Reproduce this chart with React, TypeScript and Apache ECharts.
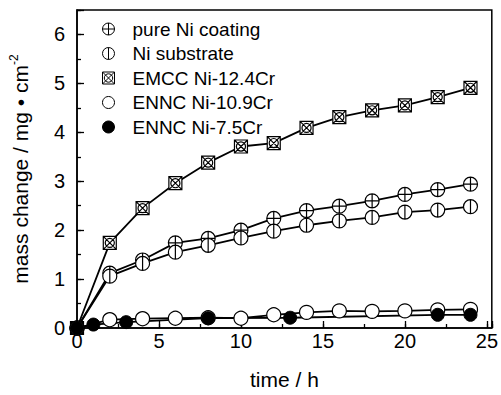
import React, { useEffect, useRef } from "react";
import * as echarts from "echarts";

const timeMain = [0, 2, 4, 6, 8, 10, 12, 14, 16, 18, 20, 22, 24];
const emccNi124Cr = [0, 1.74, 2.45, 2.96, 3.38, 3.71, 3.78, 4.09, 4.31, 4.45, 4.55, 4.72, 4.91];
const pureNiCoating = [0, 1.12, 1.39, 1.74, 1.83, 2.0, 2.24, 2.4, 2.49, 2.6, 2.73, 2.83, 2.94];
const niSubstrate = [0, 1.06, 1.32, 1.55, 1.69, 1.84, 1.98, 2.1, 2.19, 2.26, 2.37, 2.41, 2.48];
const enncNi109Cr = [0, 0.17, 0.19, 0.2, 0.21, 0.2, 0.27, 0.32, 0.35, 0.34, 0.35, 0.37, 0.38];
const time75 = [0, 1, 3, 8, 13, 22, 24];
const enncNi75Cr = [0, 0.07, 0.12, 0.2, 0.21, 0.27, 0.27];

const xTicks = [0, 5, 10, 15, 20, 25];
const yTicks = [0, 1, 2, 3, 4, 5, 6];

const names = [
  "pure Ni coating",
  "Ni substrate",
  "EMCC Ni-12.4Cr",
  "ENNC Ni-10.9Cr",
  "ENNC Ni-7.5Cr",
];

const CIRCLE = "M0 10A10 10 0 1 1 20 10A10 10 0 1 1 0 10Z";
const SYM_PLUS = "path://" + CIRCLE + "M0 10L20 10M10 0L10 20";
const SYM_BAR = "path://" + CIRCLE + "M10 0L10 20";
const SYM_BOX =
  "path://M0 0L20 0L20 20L0 20Z M3 10A7 7 0 1 1 17 10A7 7 0 1 1 3 10Z M0 0L20 20M20 0L0 20";

const FONT = "'Liberation Sans', Arial, sans-serif";

const zip = (xs: number[], ys: number[]) => xs.map((x, i) => [x, ys[i]]);

export default function App() {
  const ref = useRef<HTMLDivElement>(null);
  useEffect(() => {
    if (!ref.current) return;
    const chart = echarts.init(ref.current, undefined, { renderer: "svg" });
    const openStyle = { color: "#fff", borderColor: "#000", borderWidth: 1.2 };
    const lineStyle = { color: "#000", width: 1.8 };
    const mk = (name: string, data: number[][], symbol: string, size: number, item: any) => ({
      name,
      type: "line",
      data,
      symbol,
      symbolSize: size,
      showAllSymbol: true,
      lineStyle,
      itemStyle: item,
      emphasis: { disabled: true },
    });
    chart.setOption({
      animation: false,
      textStyle: { fontFamily: FONT },
      grid: {
        left: 76,
        right: 7,
        top: 10,
        bottom: 64,
        show: true,
        borderColor: "#000",
        borderWidth: 1.5,
        backgroundColor: "transparent",
      },
      legend: {
        orient: "vertical",
        left: 97,
        top: 14,
        itemWidth: 38,
        itemHeight: 12,
        itemGap: 4.5,
        selectedMode: false,
        textStyle: { fontSize: 19, lineHeight: 20, color: "#000", fontFamily: FONT, fontWeight: "normal" },
        itemStyle: { borderWidth: 1 },
        data: [
          { name: names[0], icon: SYM_PLUS },
          { name: names[1], icon: SYM_BAR },
          { name: names[2], icon: SYM_BOX },
          { name: names[3], icon: "circle" },
          { name: names[4], icon: "circle" },
        ],
      },
      xAxis: [
        {
          type: "value",
          min: 0,
          max: 25.3,
          interval: 5,
          position: "bottom",
          name: "time / h",
          nameLocation: "middle",
          nameGap: 41,
          nameTextStyle: { fontSize: 21, color: "#000", fontFamily: FONT, fontWeight: "normal" },
          axisLine: { onZero: false, lineStyle: { color: "#000", width: 1.5 } },
          axisTick: { inside: true, length: 7, lineStyle: { color: "#000", width: 1.3 } },
          axisLabel: {
            fontSize: 20,
            color: "#000",
            margin: 3,
            fontFamily: FONT,
            formatter: (v: number) => (xTicks.includes(v) ? String(v) : ""),
          },
          splitLine: { show: false },
        },
        {
          type: "value",
          min: 0,
          max: 25.3,
          interval: 2.5,
          position: "bottom",
          axisLine: { show: false, onZero: false },
          axisTick: { inside: true, length: 4, lineStyle: { color: "#000", width: 1.3 } },
          axisLabel: { show: false },
          splitLine: { show: false },
        },
      ],
      yAxis: [
        {
          type: "value",
          min: 0,
          max: 6.5,
          interval: 1,
          position: "left",
          name: "{a|mass change / mg • cm}{s|-2}",
          nameLocation: "middle",
          nameGap: 45,
          nameTextStyle: {
            color: "#000",
            fontWeight: "normal",
            rich: {
              a: { fontSize: 21, color: "#000", fontFamily: FONT, lineHeight: 24, fontWeight: "normal" },
              s: { fontSize: 12, color: "#000", fontFamily: FONT, verticalAlign: "top", lineHeight: 12, fontWeight: "normal" },
            },
          },
          axisLine: { onZero: false, lineStyle: { color: "#000", width: 1.5 } },
          axisTick: { inside: true, length: 7, lineStyle: { color: "#000", width: 1.3 } },
          axisLabel: {
            fontSize: 20,
            color: "#000",
            margin: 12,
            fontFamily: FONT,
            formatter: (v: number) => (yTicks.includes(v) ? String(v) : ""),
          },
          splitLine: { show: false },
        },
        {
          type: "value",
          min: 0,
          max: 6.5,
          interval: 0.5,
          position: "left",
          axisLine: { show: false, onZero: false },
          axisTick: { inside: true, length: 4, lineStyle: { color: "#000", width: 1.3 } },
          axisLabel: { show: false },
          splitLine: { show: false },
        },
      ],
      series: [
        mk(names[2], zip(timeMain, emccNi124Cr), SYM_BOX, 13, openStyle),
        mk(names[0], zip(timeMain, pureNiCoating), SYM_PLUS, 14, openStyle),
        mk(names[1], zip(timeMain, niSubstrate), SYM_BAR, 14, openStyle),
        mk(names[3], zip(timeMain, enncNi109Cr), "circle", 14, openStyle),
        mk(names[4], zip(time75, enncNi75Cr), "circle", 13, {
          color: "#000",
          borderColor: "#000",
          borderWidth: 1,
        }),
      ],
    });
    return () => chart.dispose();
  }, []);
  return <div ref={ref} style={{ width: 501, height: 395, position: "absolute", left: 0, top: 0 }} />;
}
